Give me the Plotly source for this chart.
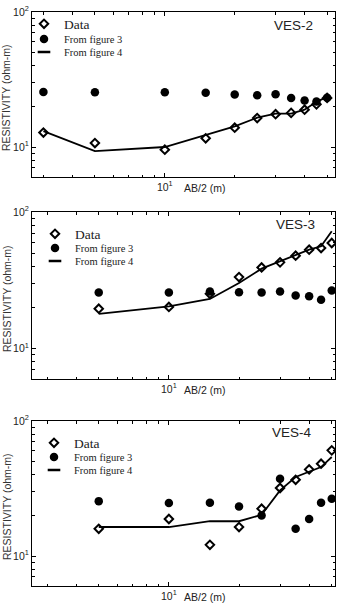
import plotly.graph_objects as go

# ---------------- data ----------------
ves2_x = [3, 5, 10, 15, 20, 25, 30, 35, 40, 45, 50]
ves2_data = [12.8, 10.7, 9.55, 11.6, 13.9, 16.4, 17.5, 17.9, 18.9, 20.7, 23.1]
ves2_fig3 = [25.6, 25.4, 25.4, 25.2, 24.5, 24.2, 24.6, 23.1, 22.1, 21.7, 23.2]
ves2_fig4 = [13.1, 9.33, 10.0, 12.2, 14.2, 16.5, 17.7, 17.7, 18.9, 21.6, 23.5]

ves3_x = [5, 10, 15, 20, 25, 30, 35, 40, 45, 50]
ves3_data = [19.6, 20.2, 25.2, 33.4, 39.3, 42.8, 47.9, 53.0, 54.5, 59.3]
ves3_fig3 = [25.8, 25.8, 26.2, 25.9, 25.8, 26.2, 24.5, 24.2, 22.8, 26.6]
ves3_fig4 = [18.0, 20.4, 23.1, 30.2, 38.5, 43.5, 48.7, 53.0, 56.1, 72.2]

ves4_x = [5, 10, 15, 20, 25, 30, 35, 40, 45, 50]
ves4_data = [15.9, 18.8, 12.1, 16.4, 22.4, 31.9, 36.7, 43.8, 48.3, 60.6]
ves4_fig3 = [25.5, 24.7, 24.8, 23.3, 20.0, 37.4, 15.9, 18.8, 24.8, 26.6]
ves4_fig4 = [16.4, 16.4, 18.1, 18.1, 20.2, 30.6, 38.5, 41.9, 45.6, 54.1]

panel_labels = ["VES-2", "VES-3", "VES-4"]
legend_names = ["Data", "From figure 3", "From figure 4"]
y_major = [10, 100]
y_major_text = ["10<sup>1</sup>", "10<sup>2</sup>"]
y_minor = [6, 7, 8, 9, 20, 30, 40, 50, 60, 70, 80, 90]
x_major = [10]
x_major_text = ["10<sup>1</sup>"]
x_minor = [3, 4, 5, 6, 7, 8, 9, 20, 30, 40, 50]
x_title = "AB/2 (m)"
y_title = "RESISTIVITY (ohm-m)"

panels = [
    (ves2_x, ves2_data, ves2_fig3, ves2_fig4),
    (ves3_x, ves3_data, ves3_fig3, ves3_fig4),
    (ves4_x, ves4_data, ves4_fig3, ves4_fig4),
]

# ---------------- layout geometry ----------------
W, H = 340, 603
def py(px):
    return 1 - px / H

y_domains = [(py(177), py(12)), (py(379), py(212)), (py(586), py(421))]
x_domain = (32 / W, 335 / W)
x_ranges = [(0.428, 1.733), (0.4125, 1.713), (0.4125, 1.713)]
legend_x = [24 / W, 35 / W, 34 / W]
legend_rows = [(24, 39, 52), (234, 248, 261), (443, 457, 470)]
ves_pos = [(293 / W, py(25)), (295 / W, py(225)), (292 / W, py(432))]

serif = "Liberation Serif"
sans = "Liberation Sans"

fig = go.Figure()
annotations = []
legend_layouts = {}

def lgname(k):
    return "legend" if k == 1 else f"legend{k}"

for i, (xs, d, f3, f4) in enumerate(panels):
    n = "" if i == 0 else str(i + 1)
    xa, ya = "x" + n, "y" + n
    lgs = [lgname(3 * i + 1), lgname(3 * i + 2), lgname(3 * i + 3)]
    fig.add_trace(go.Scatter(
        x=xs, y=f3, mode="markers", name=legend_names[1],
        marker=dict(symbol="circle", size=8.5, color="black"),
        xaxis=xa, yaxis=ya, legend=lgs[1]))
    fig.add_trace(go.Scatter(
        x=xs, y=f4, mode="lines", name=legend_names[2], showlegend=False,
        line=dict(color="black", width=1.8),
        xaxis=xa, yaxis=ya))
    fig.add_trace(go.Scatter(
        x=xs, y=d, mode="markers", name=legend_names[0],
        marker=dict(symbol="diamond-open", size=6.5, color="black", line=dict(width=2, color="black")),
        xaxis=xa, yaxis=ya, legend=lgs[0]))
    # legend proxy for the short line symbol
    fig.add_trace(go.Scatter(
        x=[None], y=[None], mode="markers", name=legend_names[2],
        marker=dict(symbol="line-ew-open", size=9, color="black", line=dict(width=2.4, color="black")),
        xaxis=xa, yaxis=ya, legend=lgs[2]))

    for k, lg in enumerate(lgs):
        legend_layouts[lg] = dict(
            x=legend_x[i], y=py(legend_rows[i][k]), xanchor="left", yanchor="middle",
            bgcolor="rgba(0,0,0,0)",
            font=dict(family=serif, size=13.5 if k == 0 else 10.5, color="#222"),
            itemwidth=30)

    axis_common = dict(
        type="log", showgrid=False, zeroline=False, automargin=False,
        showline=True, linecolor="black", linewidth=1, mirror="ticks",
        ticks="inside", ticklen=4, tickcolor="black", tickwidth=1,
        tickfont=dict(family=sans, size=10.5, color="#222"),
    )
    fig.update_layout(**{
        "xaxis" + n: dict(axis_common, domain=x_domain, range=list(x_ranges[i]),
                          anchor=ya, tickvals=x_major, ticktext=x_major_text,
                          minor=dict(tickvals=x_minor, ticks="inside", ticklen=2.5, tickcolor="black")),
        "yaxis" + n: dict(axis_common, domain=list(y_domains[i]), range=[0.778, 2],
                          anchor=xa, tickvals=y_major, ticktext=y_major_text,
                          minor=dict(tickvals=y_minor, ticks="inside", ticklen=2.5, tickcolor="black")),
    })
    annotations.append(dict(text=panel_labels[i], x=ves_pos[i][0], y=ves_pos[i][1],
                            xref="paper", yref="paper", showarrow=False,
                            xanchor="center", yanchor="middle",
                            font=dict(family=sans, size=13.5, color="#222")))
    annotations.append(dict(text=x_title, x=204 / W, y=y_domains[i][0] - 11 / H,
                            xref="paper", yref="paper", showarrow=False,
                            yanchor="middle", xanchor="center",
                            font=dict(family=sans, size=10.5, color="#222")))
    annotations.append(dict(text=y_title, x=6.5 / W, y=(y_domains[i][0] + y_domains[i][1]) / 2 - 3 / H,
                            xref="paper", yref="paper", showarrow=False, textangle=-90,
                            xanchor="center", yanchor="middle",
                            font=dict(family=sans, size=10.5, color="#333")))

fig.update_layout(
    width=W, height=H, margin=dict(l=0, r=0, t=0, b=0, autoexpand=False),
    paper_bgcolor="white", plot_bgcolor="white",
    annotations=annotations,
    **legend_layouts,
)

fig.write_html("out.html")
